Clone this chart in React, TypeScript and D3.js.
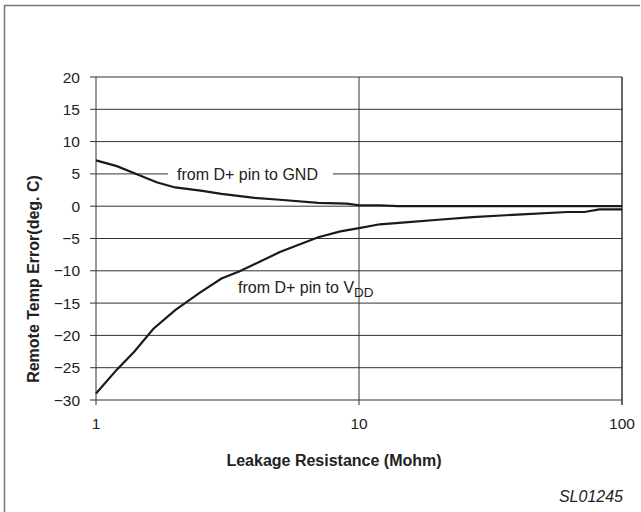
import React from "react";
import * as d3 from "d3";

// leakage resistance (Mohm) vs remote temp error (deg. C)
const gndX = [1, 1.2, 1.4, 1.7, 2, 2.5, 3, 4, 5, 7, 9, 10, 12, 14, 100];
const gndY = [7.1, 6.2, 5.1, 3.7, 2.9, 2.4, 1.9, 1.3, 1.0, 0.5, 0.4, 0.15, 0.15, 0, 0];

const vddX = [1, 1.2, 1.4, 1.65, 2, 2.5, 3, 3.5, 4, 5, 7, 8.5, 10, 12, 15, 20, 27, 40, 62, 72, 82, 100];
const vddY = [-29, -25.3, -22.5, -19, -16.1, -13.3, -11.2, -10.1, -9.0, -7.1, -4.8, -3.9, -3.4, -2.8, -2.5, -2.1, -1.7, -1.3, -0.9, -0.9, -0.5, -0.5];

const yTicks = [20, 15, 10, 5, 0, -5, -10, -15, -20, -25, -30];
const xTicks = [1, 10, 100];

const font = "'Liberation Sans', Arial, sans-serif";

export default function App() {
  const x = d3.scaleLog().domain([1, 100]).range([96, 622]);
  const y = d3.scaleLinear().domain([-30, 20]).range([400, 77]);

  const line = d3
    .line<[number, number]>()
    .x(d => x(d[0]))
    .y(d => y(d[1]));

  const gnd = gndX.map((v, i) => [v, gndY[i]] as [number, number]);
  const vdd = vddX.map((v, i) => [v, vddY[i]] as [number, number]);

  const fmt = (v: number) => (v < 0 ? "\u2212" + Math.abs(v) : String(v));

  return (
    <svg
      width={641}
      height={512}
      style={{ position: "absolute", left: 0, top: 0, background: "#fff" }}
      fontFamily={font}
    >
      {/* outer frame */}
      <path d="M4.5,520 V5.5 H640" fill="none" stroke="#777" strokeWidth={1.5} />

      {/* horizontal grid + y ticks */}
      {yTicks.map(t =>
        t === 5 ? (
          <g key={t}>
            <line x1={90} x2={168} y1={y(t)} y2={y(t)} stroke="#333" strokeWidth={1} />
            <line x1={333} x2={622} y1={y(t)} y2={y(t)} stroke="#333" strokeWidth={1} />
          </g>
        ) : (
          <line key={t} x1={90} x2={622} y1={y(t)} y2={y(t)} stroke="#333" strokeWidth={1} />
        )
      )}
      {yTicks.map(t => (
        <text key={"l" + t} x={80} y={y(t) + 5.5} textAnchor="end" fontSize={15.5} fill="#222">
          {fmt(t)}
        </text>
      ))}

      {/* vertical lines + x ticks */}
      {xTicks.map(t => (
        <line key={t} x1={x(t)} x2={x(t)} y1={77} y2={405} stroke="#333" strokeWidth={t === 100 ? 1.5 : 1} />
      ))}
      {xTicks.map(t => (
        <text key={"l" + t} x={x(t)} y={429} textAnchor="middle" fontSize={15.5} fill="#222">
          {t}
        </text>
      ))}

      {/* curves */}
      <path d={line(gnd) || ""} fill="none" stroke="#1a1a1a" strokeWidth={2.2} />
      <path d={line(vdd) || ""} fill="none" stroke="#1a1a1a" strokeWidth={2.2} />

      {/* annotations */}
      <text x={177} y={180} fontSize={16} fill="#222">from D+ pin to GND</text>
      <text x={238} y={293} fontSize={16} fill="#222">
        from D+ pin to V<tspan dy={4} fontSize={13.5}>DD</tspan>
      </text>

      {/* axis titles */}
      <text x={334} y={466} textAnchor="middle" fontSize={16} fontWeight="bold" fill="#222">
        Leakage Resistance (Mohm)
      </text>
      <text
        transform={`translate(39,279) rotate(-90)`}
        textAnchor="middle"
        fontSize={16}
        fontWeight="bold"
        fill="#222"
      >
        Remote Temp Error(deg. C)
      </text>
      <text x={623} y={502} textAnchor="end" fontSize={16} fontStyle="italic" fill="#222">
        SL01245
      </text>
    </svg>
  );
}
